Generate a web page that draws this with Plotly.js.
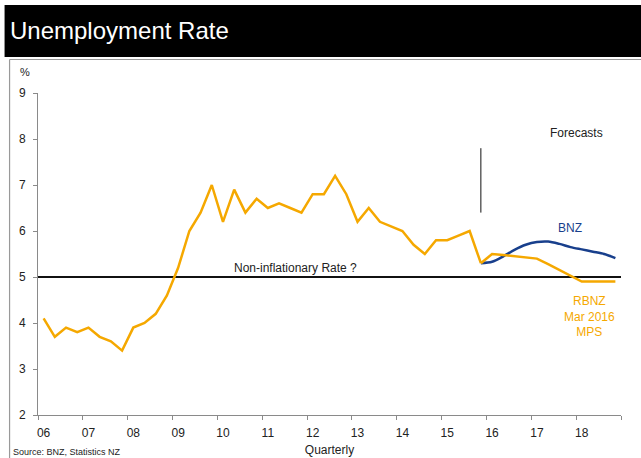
<!DOCTYPE html>
<html>
<head>
<meta charset="utf-8">
<script src="https://cdn.plot.ly/plotly-3.0.1.min.js"></script>
<style>
html,body{margin:0;padding:0;background:#fff;}
#chart{width:641px;height:458px;}
</style>
</head>
<body>
<div id="chart"></div>
<script>
// Quarter index 0 = 2006 Q1 ... 51 = 2018 Q4
var yearLabels = ['06','07','08','09','10','11','12','13','14','15','16','17','18'];
var yearStartQuarter = [0,4,8,12,16,20,24,28,32,36,40,44,48];

var actualQuarter = [];
for (var i = 0; i < 40; i++) actualQuarter.push(i);
var actualRate = [4.1,3.7,3.9,3.8, 3.9,3.7,3.6,3.4, 3.9,4.0,4.2,4.6, 5.2,6.0,6.4,7.0,
                  6.2,6.9,6.4,6.7, 6.5,6.6,6.5,6.4, 6.8,6.8,7.2,6.8, 6.2,6.5,6.2,6.1,
                  6.0,5.7,5.5,5.8, 5.8,5.9,6.0,5.3];

var forecastQuarter = [39,40,41,42,43,44,45,46,47,48,49,50,51];
var rbnzForecast = [5.3,5.5,5.48,5.45,5.43,5.4,5.28,5.15,5.03,4.9,4.9,4.9,4.9];
var bnzForecast  = [5.3,5.33,5.45,5.59,5.7,5.76,5.77,5.72,5.65,5.6,5.55,5.5,5.41];

var nonInflationaryRate = [5, 5];
var nonInflationaryQuarter = [-0.5, 51.5];

var forecastMarkerQuarter = [39, 39];
var forecastMarkerRate = [6.4, 7.8];

var ORANGE = '#F5A800';
var BLUE = '#183F8C';
var FONT = 'Liberation Sans, Arial, sans-serif';

var traces = [
  {x: nonInflationaryQuarter, y: nonInflationaryRate, mode: 'lines',
   line: {color: '#111', width: 2}, hoverinfo: 'skip'},
  {x: forecastMarkerQuarter, y: forecastMarkerRate, mode: 'lines',
   line: {color: '#111', width: 1}, hoverinfo: 'skip'},
  {x: forecastQuarter, y: bnzForecast, mode: 'lines', name: 'BNZ',
   line: {color: BLUE, width: 2.5, shape: 'spline', smoothing: 0.8}},
  {x: forecastQuarter, y: rbnzForecast, mode: 'lines', name: 'RBNZ',
   line: {color: ORANGE, width: 2.5}},
  {x: actualQuarter, y: actualRate, mode: 'lines', name: 'Actual',
   line: {color: ORANGE, width: 2.5}}
];

var L = 38.4, R = 620.8, T = 93, B = 415;
function px(x){ return (x - L) / (R - L); }
function py(y){ return (B - y) / (B - T); }

var layout = {
  width: 641, height: 458,
  margin: {l: L, r: 641 - R, t: T, b: 458 - B, pad: 0},
  paper_bgcolor: '#fff', plot_bgcolor: '#fff',
  showlegend: false,
  font: {family: FONT, size: 12, color: '#222'},
  xaxis: {
    range: [-0.5, 51.5], showgrid: false, zeroline: false,
    showline: true, linecolor: '#8a8a8a', linewidth: 1,
    tickmode: 'array', tickvals: yearStartQuarter, ticktext: yearLabels,
    ticks: '', ticklen: 0, ticklabelstandoff: 7,
    tickfont: {family: FONT, size: 12, color: '#222'},
    minor: {tickmode: 'linear', tick0: -0.5, dtick: 4, ticks: 'outside', ticklen: 4,
            tickcolor: '#8a8a8a', tickwidth: 1, showgrid: false},
    title: {text: 'Quarterly', font: {family: FONT, size: 12, color: '#222'}, standoff: 6}
  },
  yaxis: {
    range: [2, 9], dtick: 1, tick0: 2, showgrid: false, zeroline: false,
    showline: true, linecolor: '#8a8a8a', linewidth: 1,
    ticks: 'outside', ticklen: 4, tickcolor: '#8a8a8a', ticklabelstandoff: 5,
    tickfont: {family: FONT, size: 12, color: '#222'}
  },
  shapes: [
    {type: 'rect', xref: 'paper', yref: 'paper', x0: px(5), x1: px(645), y0: py(57), y1: py(5),
     fillcolor: '#000', line: {width: 0}, layer: 'below'},
    {type: 'line', xref: 'paper', yref: 'paper', x0: px(10), x1: px(645), y0: py(59.5), y1: py(59.5),
     line: {color: '#999', width: 1.2}},
    {type: 'line', xref: 'paper', yref: 'paper', x0: px(10), x1: px(10), y0: py(59.5), y1: py(470),
     line: {color: '#999', width: 1.2}}
  ],
  annotations: [
    {xref: 'paper', yref: 'paper', x: px(8), y: py(31), xanchor: 'left', yanchor: 'middle',
     text: 'Unemployment Rate', showarrow: false, font: {family: FONT, size: 24, color: '#fff'}},
    {xref: 'paper', yref: 'paper', x: px(25), y: py(72), xanchor: 'center', yanchor: 'middle',
     text: '%', showarrow: false, font: {family: FONT, size: 11, color: '#222'}},
    {xref: 'paper', yref: 'paper', x: px(11), y: py(452), xanchor: 'left', yanchor: 'middle',
     text: 'Source: BNZ, Statistics NZ', showarrow: false, font: {family: FONT, size: 9, color: '#222'}},
    {xref: 'x', yref: 'y', x: 22.5, y: 5.2, xanchor: 'center', yanchor: 'middle',
     text: 'Non-inflationary Rate ?', showarrow: false, font: {family: FONT, size: 12, color: '#222'}},
    {xref: 'x', yref: 'y', x: 47.5, y: 8.13, xanchor: 'center', yanchor: 'middle',
     text: 'Forecasts', showarrow: false, font: {family: FONT, size: 12, color: '#222'}},
    {xref: 'x', yref: 'y', x: 46.96, y: 6.07, xanchor: 'center', yanchor: 'middle',
     text: 'BNZ', showarrow: false, font: {family: FONT, size: 12, color: BLUE}},
    {xref: 'x', yref: 'y', x: 48.7, y: 4.15, xanchor: 'center', yanchor: 'middle',
     text: 'RBNZ<br>Mar 2016<br>MPS', showarrow: false, font: {family: FONT, size: 12, color: ORANGE}}
  ]
};

Plotly.newPlot('chart', traces, layout, {staticPlot: true, displayModeBar: false});
</script>
</body>
</html>
